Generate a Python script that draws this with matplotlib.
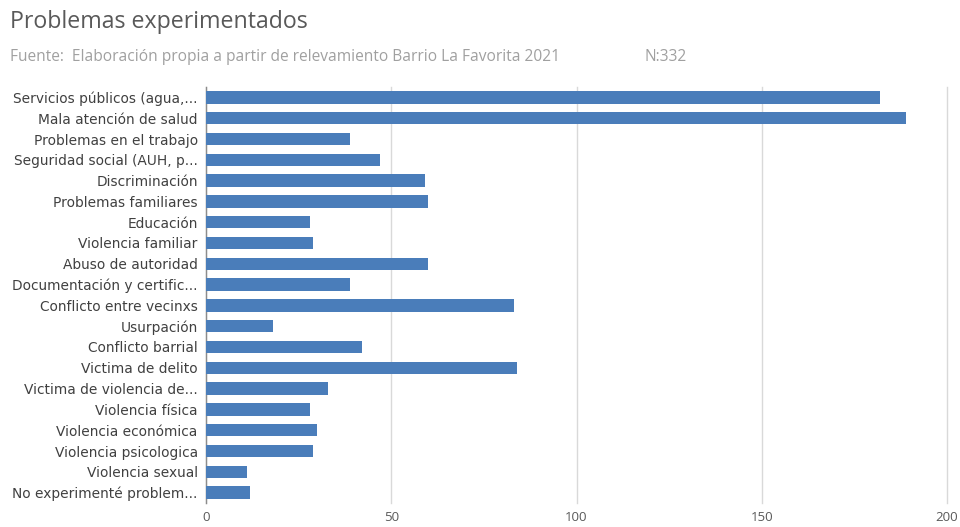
import matplotlib
matplotlib.use("Agg")
import matplotlib.pyplot as plt
import numpy as np

plt.rcParams['font.family'] = ['Open Sans', 'DejaVu Sans']

categorias = [
    "Servicios públicos (agua,...",
    "Mala atención de salud",
    "Problemas en el trabajo",
    "Seguridad social (AUH, p...",
    "Discriminación",
    "Problemas familiares",
    "Educación",
    "Violencia familiar",
    "Abuso de autoridad",
    "Documentación y certific...",
    "Conflicto entre vecinxs",
    "Usurpación",
    "Conflicto barrial",
    "Victima de delito",
    "Victima de violencia de...",
    "Violencia física",
    "Violencia económica",
    "Violencia psicologica",
    "Violencia sexual",
    "No experimenté problem...",
]
valores = [182, 189, 39, 47, 59, 60, 28, 29, 60, 39, 83, 18, 42, 84, 33, 28, 30, 29, 11, 12]
ticks_x = [0, 50, 100, 150, 200]

azul = "#4a7dba"
gris_grid = "#d9d9d9"

fig = plt.figure(figsize=(9.6, 5.27), dpi=100)
ax = fig.add_axes([206 / 960, 1 - 503 / 527, (947 - 206) / 960, (503 - 87) / 527])

y = np.arange(len(categorias))
ax.barh(y, valores, height=0.6, color=azul, zorder=3)
ax.set_ylim(len(categorias) - 0.5, -0.5)
ax.set_xlim(0, 200)

ax.set_yticks(y)
ax.set_yticklabels(categorias, fontsize=9.9, color="#404040", family="DejaVu Sans")
ax.set_xticks(ticks_x)
ax.set_xticklabels([str(t) for t in ticks_x], fontsize=9.5, color="#595959")
ax.tick_params(axis="both", length=0)
ax.tick_params(axis="y", pad=6)
ax.tick_params(axis="x", pad=6)

ax.grid(axis="x", color=gris_grid, linewidth=1, zorder=0)
for gl in ax.xaxis.get_gridlines():
    gl.set_clip_on(False)
for s in ["top", "right", "bottom"]:
    ax.spines[s].set_visible(False)
ax.spines["left"].set_color("#8c8c8c")
ax.spines["left"].set_linewidth(1)

fig.text(10 / 960, 1 - 22 / 527, "Problemas experimentados", fontsize=16.7,
         color="#595959", va="center", ha="left")
fig.text(10 / 960, 1 - 57 / 527,
         "Fuente:  Elaboración propia a partir de relevamiento Barrio La Favorita 2021",
         fontsize=11.2, color="#a0a0a0", va="center", ha="left")
fig.text(645 / 960, 1 - 57 / 527, "N:332", fontsize=11.2, color="#a0a0a0",
         va="center", ha="left")

fig.savefig("out.png", dpi=100, facecolor="white")
